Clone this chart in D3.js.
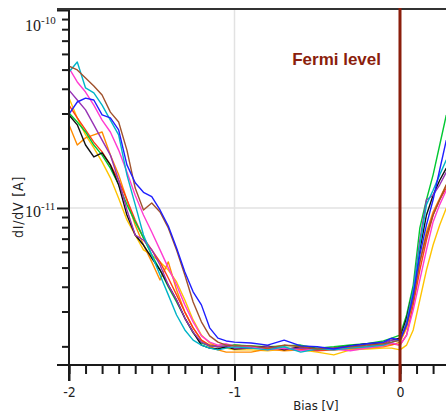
<!DOCTYPE html>
<html>
<head>
<meta charset="utf-8">
<script src="https://cdn.jsdelivr.net/npm/d3@7"></script>
<style>
  body { margin: 0; background: #fff; }
  svg { display: block; }
</style>
</head>
<body>
<svg id="chart" width="446" height="416"></svg>
<script>
// bias points (V) shared by all the spectra
var bias = [-2.00, -1.95, -1.90, -1.85, -1.80, -1.75, -1.70, -1.65, -1.60, -1.55,
            -1.50, -1.45, -1.40, -1.35, -1.30, -1.25, -1.20, -1.15, -1.10, -1.05,
            -1.00, -0.90, -0.80, -0.70, -0.60, -0.50, -0.40, -0.30, -0.20, -0.10,
            -0.05, 0.00, 0.04, 0.08, 0.12, 0.16, 0.20, 0.24, 0.28];

// dI/dV values, in pA (1e-12 A)
var blueVals = [29.8, 34.3, 35.9, 35.1, 29.5, 28.5, 24.8, 16.5, 13.4, 12.0, 11.4, 9.77, 8.11, 6.28, 4.75, 3.77, 3.24, 2.48, 2.20, 2.13, 2.10,
                2.08, 2.03, 2.15, 2.01, 1.99, 1.94, 2.01, 2.06, 2.10, 2.20,
                2.15, 2.57, 3.64, 5.79, 8.21, 11.0, 15.6, 22.0];
var brownVals = [52.1, 49.8, 45.4, 41.3, 37.2, 30.5, 27.2, 19.6, 12.6, 9.77, 10.6, 9.55, 7.93, 6.14, 4.59, 3.35, 2.66, 2.26, 2.10, 2.03, 2.01,
                 2.01, 1.96, 2.03, 1.99, 1.94, 1.96, 1.99, 2.03, 2.06, 2.10,
                 2.15, 2.57, 3.43, 5.34, 7.30, 9.22, 11.0, 13.1];
var cyanVals = [48.6, 54.6, 40.4, 38.1, 33.1, 27.8, 23.4, 14.7, 10.4, 7.30, 5.79, 4.59, 3.64, 2.88, 2.42, 2.15, 2.03, 1.96, 1.92, 1.96, 1.99,
                1.96, 1.92, 1.99, 1.87, 1.94, 1.92, 1.96, 1.99, 2.03, 2.10,
                2.15, 2.63, 3.85, 6.50, 10.4, 12.3, 14.7, 17.5];
var magentaVals = [50.9, 43.3, 38.5, 33.1, 27.8, 24.2, 19.6, 15.2, 11.6, 9.22, 7.56, 6.14, 4.98, 4.08, 3.24, 2.66, 2.26, 2.10, 2.03, 2.06, 2.01,
                   1.99, 1.92, 1.96, 1.90, 1.94, 1.94, 1.90, 1.96, 2.01, 2.08,
                   2.03, 2.28, 3.05, 4.33, 6.14, 8.50, 10.4, 12.3];
var purpleVals = [39.4, 35.1, 31.3, 26.3, 22.0, 18.5, 13.8, 9.77, 7.30, 6.89, 6.14, 5.15, 4.08, 3.43, 2.78, 2.36, 2.10, 2.01, 1.99, 2.01, 1.96,
                  1.96, 1.99, 1.94, 1.96, 1.92, 1.96, 1.99, 2.01, 2.08, 2.15,
                  2.15, 2.66, 3.85, 6.89, 11.0, 11.6, 13.1, 15.2];
var blackVals = [29.5, 26.3, 20.8, 18.1, 19.0, 16.5, 13.1, 9.22, 7.30, 6.50, 5.59, 4.86, 4.08, 3.43, 2.78, 2.36, 2.03, 1.96, 1.94, 1.99, 1.94,
                 1.96, 2.01, 1.92, 1.99, 1.94, 1.96, 2.01, 2.06, 2.08, 2.15,
                 2.20, 2.78, 3.85, 6.14, 9.22, 11.6, 13.8, 15.9];
var orangeVals = [26.3, 20.8, 22.6, 23.4, 24.2, 18.5, 14.7, 11.0, 8.21, 6.50, 5.34, 4.33, 5.34, 3.85, 2.98, 2.48, 2.15, 1.99, 1.92, 1.87, 1.87,
                  1.87, 1.94, 1.90, 1.92, 1.96, 1.92, 1.94, 1.96, 1.99, 2.03,
                  2.10, 2.48, 3.43, 5.34, 7.56, 9.55, 11.2, 13.1];
var yellowVals = [35.9, 28.5, 23.4, 20.1, 17.1, 14.2, 11.2, 8.70, 7.30, 6.14, 5.79, 5.34, 4.86, 4.23, 3.43, 2.72, 2.28, 2.08, 1.99, 1.96, 1.92,
                  1.92, 1.90, 1.94, 1.92, 1.87, 1.81, 1.92, 1.94, 1.96, 1.96,
                  1.92, 2.03, 2.42, 3.43, 4.86, 6.50, 8.21, 10.0];
var greenVals = [30.2, 27.2, 24.2, 20.8, 18.5, 15.9, 13.1, 10.4, 8.50, 7.06, 5.79, 4.86, 3.99, 3.35, 2.78, 2.34, 2.08, 2.01, 1.99, 2.01, 2.03,
                 2.01, 1.99, 2.01, 2.03, 1.96, 1.99, 2.03, 2.06, 2.13, 2.20,
                 2.28, 2.88, 4.08, 7.93, 11.0, 14.7, 20.8, 29.5];
var redVals = [33.1, 28.5, 24.8, 21.5, 19.2, 16.5, 13.8, 11.0, 8.70, 7.06, 6.14, 5.34, 4.43, 3.64, 2.98, 2.48, 2.15, 2.03, 2.01, 1.99, 2.03,
               1.99, 1.94, 1.96, 1.94, 1.90, 1.92, 1.96, 1.99, 2.03, 2.06,
               2.03, 2.28, 3.24, 4.86, 6.89, 9.22, 11.0, 12.6];

var majorX = [-2, -1, 0];
var majorY = [1e-11, 1e-10];
var yLabels = ["-11", "-10"];

var series = [
    {name: "yellow", color: "#ffc400", values: yellowVals},
    {name: "orange", color: "#ff8c00", values: orangeVals},
    {name: "red", color: "#ff3c14", values: redVals},
    {name: "green", color: "#00c832", values: greenVals},
    {name: "black", color: "#111111", values: blackVals},
    {name: "purple", color: "#9632b4", values: purpleVals},
    {name: "magenta", color: "#ff3cd2", values: magentaVals},
    {name: "cyan", color: "#00b4c8", values: cyanVals},
    {name: "brown", color: "#a0522d", values: brownVals},
    {name: "blue", color: "#1e1eff", values: blueVals}
];

var svg = d3.select("#chart");
// note: "top" is taken by window.top, so use plot* names
var plotLeft = 69, plotRight = 446, plotTop = 10, plotBottom = 365;

var x = d3.scaleLinear().domain([-2, 0.278]).range([plotLeft, plotRight]);
var y = d3.scaleLog().domain([1.61e-12, 1e-10]).range([plotBottom, plotTop]);

// grid lines
svg.append("line")
    .attr("x1", plotLeft).attr("x2", plotRight)
    .attr("y1", y(1e-11)).attr("y2", y(1e-11))
    .style("stroke", "#e2e2e2").style("stroke-width", 1.5);
[-1, 0].forEach(function(v) {
    svg.append("line")
        .attr("x1", x(v)).attr("x2", x(v))
        .attr("y1", plotTop).attr("y2", plotBottom)
        .style("stroke", "#e2e2e2").style("stroke-width", 1.5);
});

// spectra
var line = d3.line()
    .x(function(d) { return x(d[0]); })
    .y(function(d) { return y(d[1] * 1e-12); });

series.forEach(function(s) {
    var pts = bias.map(function(b, i) { return [b, s.values[i]]; });
    svg.append("path")
        .datum(pts)
        .attr("d", line)
        .style("fill", "none")
        .style("stroke", s.color)
        .style("stroke-width", 1.4)
        .style("stroke-linejoin", "round");
});

// x axis ticks
var minorX = d3.range(-20, 3).map(function(i) { return i / 10; });
var gXminor = svg.append("g")
    .attr("transform", "translate(0," + plotBottom + ")")
    .call(d3.axisBottom(x).tickValues(minorX).tickSize(9).tickFormat(""));
var gXmajor = svg.append("g")
    .attr("transform", "translate(0," + plotBottom + ")")
    .call(d3.axisBottom(x).tickValues(majorX).tickSize(16).tickPadding(6)
        .tickFormat(function(d) { return d3.format("d")(d).replace("−", "-"); }));

// y axis ticks
var minorY = [];
[1e-12, 1e-11].forEach(function(dec) {
    for (var k = 2; k <= 9; k++) {
        if (k * dec >= 1.61e-12) minorY.push(k * dec);
    }
});
var gYminor = svg.append("g")
    .attr("transform", "translate(" + plotLeft + ",0)")
    .call(d3.axisLeft(y).tickValues(minorY).tickSize(7).tickFormat(""));
var gYmajor = svg.append("g")
    .attr("transform", "translate(" + plotLeft + ",0)")
    .call(d3.axisLeft(y).tickValues(majorY).tickSize(12).tickFormat(""));

svg.selectAll(".domain").remove();
svg.selectAll(".tick line").style("stroke", "#1a1a1a").style("stroke-width", 2);
gXmajor.selectAll(".tick text")
    .style("font-family", "'DejaVu Sans Condensed', 'Liberation Sans', sans-serif")
    .style("font-size", "14px")
    .style("fill", "#222");

// frame: left axis, bottom axis, top line
svg.append("line").attr("x1", plotLeft).attr("x2", plotLeft).attr("y1", plotTop - 1).attr("y2", plotBottom + 16)
    .style("stroke", "#1a1a1a").style("stroke-width", 2);
svg.append("line").attr("x1", 57).attr("x2", plotRight).attr("y1", plotBottom).attr("y2", plotBottom)
    .style("stroke", "#1a1a1a").style("stroke-width", 2);
svg.append("line").attr("x1", 57).attr("x2", plotRight).attr("y1", plotTop - 1).attr("y2", plotTop - 1)
    .style("stroke", "#333").style("stroke-width", 2);

// y tick labels 10^-11, 10^-10
majorY.forEach(function(v, i) {
    var ty = i == 1 ? 31 : y(v) + 9;
    var t = svg.append("text")
        .attr("x", 25).attr("y", ty)
        .style("font-family", "'Liberation Serif', serif")
        .style("font-size", "16px")
        .style("fill", "#1a1a1a");
    t.append("tspan").text("10");
    t.append("tspan").attr("dy", -7).style("font-size", "11px").text(yLabels[i]);
});

// axis titles
svg.append("text")
    .attr("x", 316).attr("y", 410)
    .attr("text-anchor", "middle")
    .style("font-family", "'DejaVu Sans Condensed', 'Liberation Sans', sans-serif")
    .style("font-size", "13px")
    .style("fill", "#222")
    .text("Bias [V]");
svg.append("text")
    .attr("transform", "translate(23,207) rotate(-90)")
    .attr("text-anchor", "middle")
    .style("font-family", "'DejaVu Sans Condensed', 'Liberation Sans', sans-serif")
    .style("font-size", "14px")
    .style("letter-spacing", "0.8px")
    .style("fill", "#222")
    .text("dI/dV [A]");

// Fermi level marker
svg.append("line")
    .attr("x1", x(0)).attr("x2", x(0))
    .attr("y1", plotTop - 2).attr("y2", plotBottom + 17)
    .style("stroke", "#8b1e0c").style("stroke-width", 3);
svg.append("text")
    .attr("x", 381).attr("y", 65)
    .attr("text-anchor", "end")
    .style("font-family", "'Liberation Sans', Arial, sans-serif")
    .style("font-size", "17px")
    .style("font-weight", "bold")
    .style("fill", "#8b1e0c")
    .text("Fermi level");
</script>
</body>
</html>
